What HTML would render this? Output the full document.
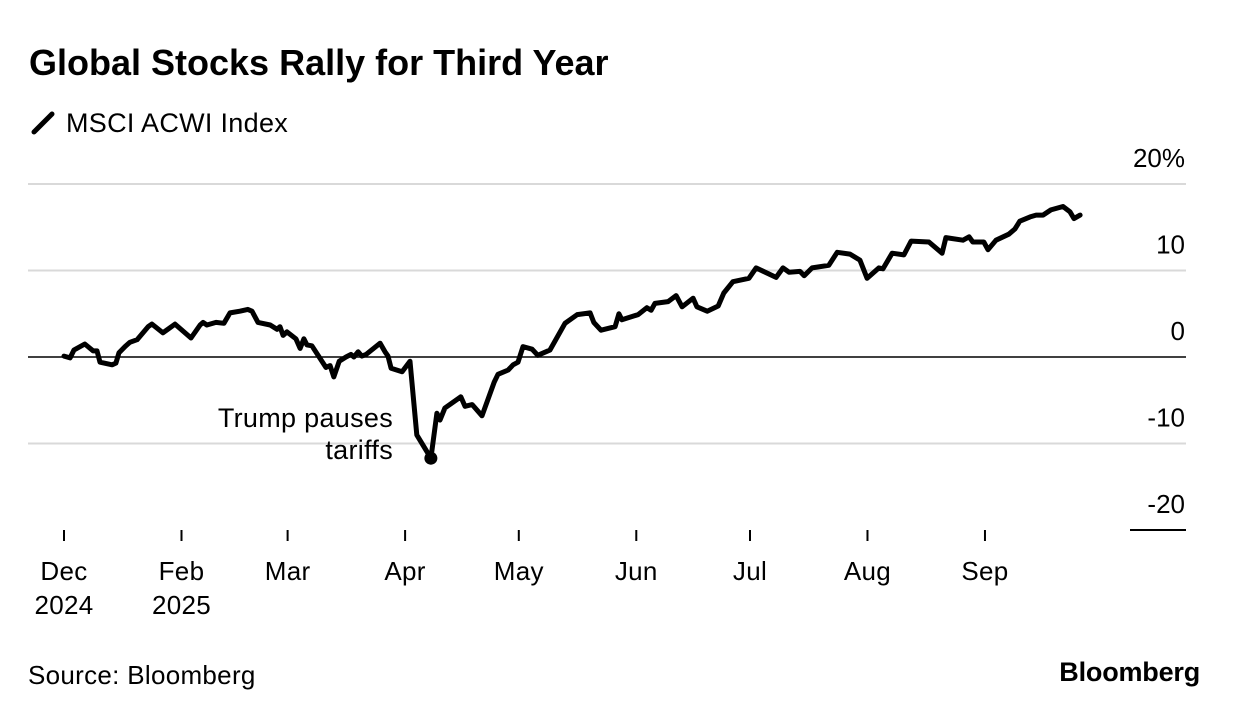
<!DOCTYPE html>
<html><head><meta charset="utf-8">
<style>
body{margin:0;background:#fff;width:1240px;height:716px;overflow:hidden;font-family:"Liberation Sans",Arial,sans-serif;}
svg{position:absolute;left:0;top:0}
</style></head>
<body>
<svg id="chart" width="1240" height="716">
  <text x="29" y="75" font-size="36" font-weight="bold" fill="#000" letter-spacing="0">Global Stocks Rally for Third Year</text>
  <g>
    <line x1="34" y1="132" x2="52" y2="114" stroke="#000" stroke-width="5" stroke-linecap="round"/>
    <text x="66" y="132" font-size="27" fill="#000" letter-spacing="0.3">MSCI ACWI Index</text>
  </g>
  <g id="grid"></g>
  <g id="xaxis"></g>
  <path id="line" fill="none" stroke="#000" stroke-width="5" stroke-linejoin="round" stroke-linecap="round"/>
  <circle id="marker" r="6.5" fill="#000"/>
  <text x="393" y="427" font-size="27" text-anchor="end" fill="#000" letter-spacing="0.3">Trump pauses</text>
  <text x="393" y="459" font-size="27" text-anchor="end" fill="#000" letter-spacing="0.3">tariffs</text>
  <text x="28" y="684" font-size="26" fill="#000" letter-spacing="0.3">Source: Bloomberg</text>
  <text x="1200" y="681" font-size="27" font-weight="bold" text-anchor="end" fill="#000" letter-spacing="-0.2">Bloomberg</text>
</svg>
<script>
const days = [0,1.6,2.6,5.5,7.7,8.7,9.5,12.7,13.7,14.5,16.1,17.4,19.3,22.2,23.2,26.1,27.4,29.3,33.5,35.9,36.7,37.7,40.1,42.2,43.8,46.4,48.5,49.6,51.2,54.4,56.2,57,57.8,58.8,61.2,62.3,63.3,64.1,65.4,69.1,70.2,71.2,72.6,74.4,75.7,76.5,77.6,78.6,79.7,83.4,84.7,85.5,86.3,89.2,91.3,93.1,96.8,98.4,99.2,100.5,104.7,105.8,107.7,110.3,113.5,114.5,117.2,118.5,119.8,121.1,123.5,125,128.2,132.2,135.4,138.8,139.8,141.7,145.4,146.4,147.2,151.5,153.8,154.9,155.9,159.4,161.5,163.1,166,167,169.7,172.6,174.1,176.5,180.7,182.6,187.9,189.7,191.3,194.2,195.3,197.4,201.8,204,207.4,210,211.9,215,216.1,218.5,221.6,223.5,228.2,231.7,232.7,237.2,238.8,239.8,242.7,243.8,245.9,249.3,250.9,252.2,254.9,256.5,258.3,260.4,263.6,265.4,266.5,268.1];
const values = [0.1,-0.1,0.8,1.5,0.7,0.7,-0.6,-0.9,-0.7,0.5,1.2,1.7,2.0,3.5,3.8,2.8,3.2,3.8,2.2,3.7,4.0,3.7,4.0,3.9,5.1,5.3,5.5,5.3,4.0,3.7,3.2,3.5,2.5,2.9,2.1,1.0,2.1,1.4,1.3,-1.2,-1.0,-2.3,-0.5,0,0.3,0,0.6,0.1,0.3,1.6,0.6,0.1,-1.3,-1.7,-0.5,-9.0,-11.7,-6.5,-7.3,-5.9,-4.6,-5.7,-5.5,-6.8,-2.9,-2.0,-1.5,-0.9,-0.6,1.2,0.9,0.2,0.8,3.9,4.9,5.1,4.0,3.1,3.5,5.0,4.3,4.9,5.7,5.4,6.2,6.4,7.1,5.8,6.8,5.8,5.3,5.9,7.4,8.7,9.1,10.3,9.2,10.3,9.8,9.9,9.4,10.3,10.6,12.1,11.9,11.2,9.1,10.3,10.2,12.0,11.8,13.4,13.3,12.0,13.8,13.5,13.9,13.3,13.3,12.4,13.5,14.2,14.8,15.7,16.2,16.4,16.4,17.0,17.4,16.8,16.0,16.4];
const yTicks = [20,10,0,-10,-20];
const yTickLabels = ["20%","10","0","-10","-20"];
const monthDays = [0,31,59,90,120,151,181,212,243];
const monthLabels = ["Dec","Feb","Mar","Apr","May","Jun","Jul","Aug","Sep"];
const yearLabels = ["2024","2025","","","","","","",""];
const markerIndex = 56;

const NS="http://www.w3.org/2000/svg";
const x = d => 64 + d*3.79;
const y = v => 357 - v*8.65;

const grid=document.getElementById('grid');
yTicks.forEach((t,i)=>{
  const l=document.createElementNS(NS,'line');
  const isZero=t===0, isBottom=i===yTicks.length-1;
  l.setAttribute('x1', isBottom?1130:28); l.setAttribute('x2',1186);
  l.setAttribute('y1',y(t)); l.setAttribute('y2',y(t));
  l.setAttribute('stroke', (isZero||isBottom)?'#000':'#d9d9d9');
  l.setAttribute('stroke-width', isZero?1.5:2);
  
  
  grid.appendChild(l);
  const tx=document.createElementNS(NS,'text');
  tx.setAttribute('x',1185); tx.setAttribute('y',y(t)-17);
  tx.setAttribute('text-anchor','end'); tx.setAttribute('font-size','26');
  tx.textContent=yTickLabels[i];
  
  
  grid.appendChild(tx);
});
const xa=document.getElementById('xaxis');
monthDays.forEach((d,i)=>{
  const l=document.createElementNS(NS,'line');
  l.setAttribute('x1',x(d)); l.setAttribute('x2',x(d));
  l.setAttribute('y1',530); l.setAttribute('y2',541);
  l.setAttribute('stroke','#000'); l.setAttribute('stroke-width','2');
  
  
  xa.appendChild(l);
  const t=document.createElementNS(NS,'text');
  t.setAttribute('x',x(d)); t.setAttribute('y',580);
  t.setAttribute('text-anchor','middle'); t.setAttribute('font-size','26');
  t.setAttribute('letter-spacing','0.3');
  t.textContent=monthLabels[i];
  
  
  xa.appendChild(t);
  if(yearLabels[i]){
    const t2=document.createElementNS(NS,'text');
    t2.setAttribute('x',x(d)); t2.setAttribute('y',614);
    t2.setAttribute('text-anchor','middle'); t2.setAttribute('font-size','26');
    t2.setAttribute('letter-spacing','0.3');
    t2.textContent=yearLabels[i];
    
    
    xa.appendChild(t2);
  }
});
document.getElementById('line').setAttribute('d', days.map((d,i)=>(i?'L':'M')+x(d).toFixed(1)+','+y(values[i]).toFixed(1)).join(''));
const m=document.getElementById('marker');
m.setAttribute('cx',x(days[markerIndex])); m.setAttribute('cy',y(values[markerIndex]));
</script>
</body></html>
